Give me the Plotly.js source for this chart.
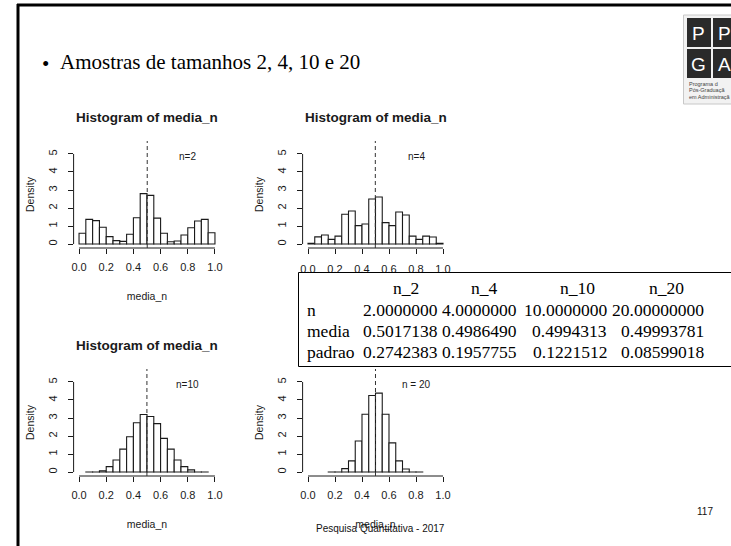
<!DOCTYPE html>
<html><head><meta charset="utf-8">
<script src="https://cdn.plot.ly/plotly-3.0.1.min.js"></script>
<style>html,body{margin:0;padding:0;background:#fff;overflow:hidden}</style>
</head><body><div id="chart" style="width:731px;height:546px"></div>
<script>
// ---- data ----
const binMids = [0.025,0.075,0.125,0.175,0.225,0.275,0.325,0.375,0.425,0.475,0.525,0.575,0.625,0.675,0.725,0.775,0.825,0.875,0.925,0.975];
const binWidth = 0.05;
const density_n2  = [0.60,1.37,1.30,0.93,0.41,0.19,0.15,0.54,1.46,2.80,2.70,1.44,0.60,0.13,0.17,0.50,0.90,1.28,1.37,0.63];
const density_n4  = [0.04,0.40,0.50,0.26,0.44,1.65,1.83,1.02,1.11,2.50,2.61,1.19,1.02,1.78,1.61,0.44,0.26,0.44,0.39,0.04];
const density_n10 = [null,0.004,0.006,0.07,0.30,0.67,1.27,1.96,2.74,3.19,3.08,2.69,1.87,1.27,0.67,0.30,0.12,0.006,0.004,null];
const density_n20 = [null,null,null,0.004,0.006,0.19,0.62,1.72,3.21,4.25,4.38,3.21,1.62,0.62,0.17,0.006,0.004,null,null,null];
const sampleLabels = ['n=2','n=4','n=10','n = 20'];
const plotTitle = 'Histogram of media_n';
const xLabel = 'media_n';
const yLabel = 'Density';
const xTicks = [0,0.2,0.4,0.6,0.8,1.0];
const xTickText = ['0.0','0.2','0.4','0.6','0.8','1.0'];
const yTicks = [0,1,2,3,4,5];
const tableHeader = ['n_2','n_4','n_10','n_20'];
const rowLabels = ['n','media','padrao'];
const rowN      = ['2.0000000','4.0000000','10.0000000','20.00000000'];
const rowMedia  = ['0.5017138','0.4986490','0.4994313','0.49993781'];
const rowPadrao = ['0.2742383','0.1957755','0.1221512','0.08599018'];
const slideTitle = 'Amostras de tamanhos 2, 4, 10 e 20';
const footerText = 'Pesquisa Quantitativa - 2017';
const pageNumber = '117';
const logoLetters = ['P','P','G','A'];
const logoLines = ['Programa d','Pós-Graduaçã','em Administraçã'];

// ---- layout helpers (pixels -> paper) ----
const W = 731, H = 546;
const px = p => p / W, py = p => 1 - p / H;
const panels = [
  {x0:73.6, x1:220.4, yTop:141, yBot:248, title:true,  xtitle:true,  xls:4},
  {x0:302.6, x1:448.4, yTop:141, yBot:248, title:true,  xtitle:false, xls:6},
  {x0:73.6, x1:220.4, yTop:369, yBot:476, title:true,  xtitle:true,  xls:4},
  {x0:302.6, x1:448.4, yTop:369, yBot:476, title:false, xtitle:true,  xls:4}
];
const densities = [density_n2, density_n4, density_n10, density_n20];
const ink = '#1a1a1a';
const sans = 'Liberation Sans, Arial, sans-serif';
const serif = 'Liberation Serif, Times New Roman, serif';

const data = [];
const layout = {
  width: W, height: H, margin:{l:0,r:0,t:0,b:0},
  paper_bgcolor:'#fff', plot_bgcolor:'rgba(0,0,0,0)',
  showlegend:false, bargap:0,
  shapes:[], annotations:[]
};

panels.forEach((p, i) => {
  const k = i === 0 ? '' : String(i+1);
  data.push({
    type:'bar', x: binMids, y: densities[i], width: binWidth,
    xaxis:'x'+k, yaxis:'y'+k,
    marker:{color:'#ffffff', line:{color:ink, width:1.1}},
    hoverinfo:'x+y'
  });
  layout['xaxis'+k] = {
    domain:[px(p.x0), px(p.x1)], range:[-0.04,1.04], anchor:'y'+k,
    tickmode:'array', tickvals:xTicks, ticktext:xTickText,
    ticks:'outside', ticklen:5, tickcolor:ink, tickwidth:1,
    tickfont:{family:sans, size:11, color:ink}, ticklabelstandoff:p.xls,
    showline:false, showgrid:false, zeroline:false, fixedrange:true,
    title: p.xtitle ? {text:xLabel, font:{family:sans, size:10.5, color:ink}, standoff:20} : {text:''}
  };
  layout['yaxis'+k] = {
    domain:[py(p.yBot), py(p.yTop)], range:[-0.22,5.72], anchor:'x'+k,
    tickmode:'array', tickvals:yTicks, tickangle:-90,
    ticks:'outside', ticklen:5, tickcolor:ink, tickwidth:1,
    tickfont:{family:sans, size:11, color:ink}, ticklabelstandoff:6,
    showline:false, showgrid:false, zeroline:false, fixedrange:true,
    title:{text:yLabel, font:{family:sans, size:10.5, color:ink}, standoff:10}
  };
  // R-style axis lines spanning first to last tick
  layout.shapes.push({type:'line', xref:'x'+k, yref:'y'+k+' domain', x0:xTicks[0], x1:xTicks[xTicks.length-1], y0:0, y1:0, line:{color:ink, width:1}});
  layout.shapes.push({type:'line', xref:'x'+k+' domain', yref:'y'+k, x0:0, x1:0, y0:yTicks[0], y1:yTicks[yTicks.length-1], line:{color:ink, width:1}});
  // dashed line at the sample mean
  const m = parseFloat(rowMedia[i]);
  layout.shapes.push({type:'line', xref:'x'+k, yref:'y'+k+' domain', x0:m, x1:m, y0:0, y1:1, line:{color:'#333', width:1, dash:'4px,3px'}});
  // panel title (the 4th one is hidden under the table in the reference)
  if (p.title) layout.annotations.push({xref:'paper', yref:'paper', x:px((p.x0+p.x1)/2), y:py(p.yTop-24), text:'<b>'+plotTitle+'</b>',
    showarrow:false, xanchor:'center', yanchor:'middle', font:{family:sans, size:13.5, color:ink}});
  // sample-size label
  layout.annotations.push({xref:'x'+k, yref:'y'+k, x:0.8, y:4.85, text:sampleLabels[i], showarrow:false,
    xanchor:'center', yanchor:'middle', font:{family:sans, size:10, color:ink}});
});

// table box covering part of panel 2
layout.shapes.push({type:'rect', xref:'paper', yref:'paper', layer:'above', x0:px(298.5), x1:px(745), y0:py(366.5), y1:py(272.5), fillcolor:'#ffffff', line:{color:'#000', width:1}});
const tfont = {family:serif, size:17.5, color:'#000'};
const headerX = [406, 484, 577, 666];
const colRight = [440, 519, 609, 706];
const rowY = [288, 310, 331, 352];
tableHeader.forEach((h, j) => layout.annotations.push({xref:'paper', yref:'paper', x:px(headerX[j]), y:py(rowY[0]), text:h, showarrow:false, xanchor:'center', yanchor:'middle', font:tfont}));
[rowN, rowMedia, rowPadrao].forEach((row, r) => {
  layout.annotations.push({xref:'paper', yref:'paper', x:px(305), y:py(rowY[r+1]), text:rowLabels[r], showarrow:false, xanchor:'left', yanchor:'middle', font:tfont});
  row.forEach((v, j) => layout.annotations.push({xref:'paper', yref:'paper', x:px(colRight[j]), y:py(rowY[r+1]), text:v, showarrow:false, xanchor:'right', yanchor:'middle', font:tfont}));
});

// slide title
layout.annotations.push({xref:'paper', yref:'paper', x:px(45), y:py(64), text:'•', showarrow:false, xanchor:'center', yanchor:'middle', font:{family:serif, size:21, color:'#000'}});
layout.annotations.push({xref:'paper', yref:'paper', x:px(58), y:py(62), text:slideTitle, showarrow:false, xanchor:'left', yanchor:'middle', font:{family:serif, size:21, color:'#000'}});
// footer & page number
layout.annotations.push({xref:'paper', yref:'paper', x:px(380), y:py(528), text:footerText, showarrow:false, xanchor:'center', yanchor:'middle', font:{family:sans, size:10, color:'#111'}});
layout.annotations.push({xref:'paper', yref:'paper', x:px(705), y:py(511), text:pageNumber, showarrow:false, xanchor:'center', yanchor:'middle', font:{family:sans, size:10, color:'#111'}});

// slide frame
layout.shapes.push({type:'line', xref:'paper', yref:'paper', x0:px(18), x1:px(18), y0:py(4), y1:py(560), line:{color:'#000', width:3}});
layout.shapes.push({type:'line', xref:'paper', yref:'paper', x0:px(17), x1:px(760), y0:py(5), y1:py(5), line:{color:'#000', width:3}});

// logo (cut by the right edge of the slide image)
layout.shapes.push({type:'rect', xref:'paper', yref:'paper', layer:'above', x0:px(683.5), x1:px(745), y0:py(104), y1:py(15), fillcolor:'#f2f2f2', line:{color:'#c8c8c8', width:1}});
const logoCells = [[687,18],[713,18],[687,49],[713,49]];
logoCells.forEach((c, j) => {
  layout.shapes.push({type:'rect', xref:'paper', yref:'paper', layer:'above', x0:px(c[0]), x1:px(c[0]+24), y0:py(c[1]+29), y1:py(c[1]), fillcolor:'#2a2a2a', line:{width:0}});
  layout.annotations.push({xref:'paper', yref:'paper', x:px(c[0]+11.5), y:py(c[1]+15), text:logoLetters[j], showarrow:false, xanchor:'center', yanchor:'middle', font:{family:sans, size:19, color:'#ffffff'}});
});
logoLines.forEach((t, j) => layout.annotations.push({xref:'paper', yref:'paper', x:px(687), y:py(84+j*6.5), text:t, showarrow:false, xanchor:'left', yanchor:'middle', font:{family:sans, size:5.5, color:'#444'}}));

Plotly.newPlot('chart', data, layout, {staticPlot:true, displayModeBar:false});
</script></body></html>
